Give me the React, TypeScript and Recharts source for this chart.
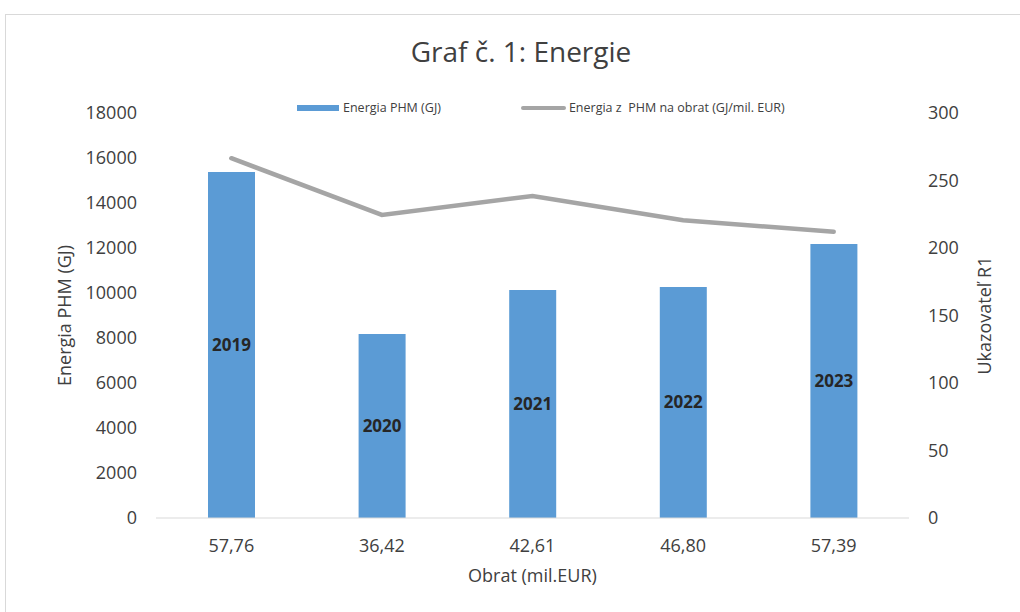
import React from 'react';
import { ComposedChart, Bar, Line, XAxis, YAxis, Legend, LabelList } from 'recharts';

const FONT = '"Open Sans", "Noto Sans", sans-serif';
const BLUE = '#5b9bd5';
const GRAY = '#a5a5a5';
const TEXT = '#404040';

const turnover = ['57,76', '36,42', '42,61', '46,80', '57,39'];
const years = ['2019', '2020', '2021', '2022', '2023'];
const energyGJ = [15380, 8180, 10130, 10270, 12180];
const energyPerTurnover = [266.5, 224.5, 238.5, 220.5, 212];
const leftTicks = [0, 2000, 4000, 6000, 8000, 10000, 12000, 14000, 16000, 18000];
const rightTicks = [0, 50, 100, 150, 200, 250, 300];

const data = turnover.map((t, i) => ({
  turnover: t,
  year: years[i],
  energy: energyGJ[i],
  ratio: energyPerTurnover[i],
}));

const renderLegend = () => (
  <div style={{ display: 'flex', alignItems: 'center', fontSize: 12.5, color: TEXT, fontFamily: FONT, whiteSpace: 'pre' }}>
    <span style={{ display: 'inline-block', width: 42, height: 6, background: BLUE, marginRight: 4 }} />
    <span style={{ marginRight: 80 }}>Energia PHM (GJ)</span>
    <span style={{ display: 'inline-block', width: 45, height: 4, borderRadius: 2, background: GRAY, marginRight: 3 }} />
    <span>Energia z  PHM na obrat (GJ/mil. EUR)</span>
  </div>
);

const App = () => {
  return (
    <div style={{ position: 'absolute', left: 0, top: 0, width: 1020, height: 612, overflow: 'hidden', background: '#fff', fontFamily: FONT }}>
      <div style={{ position: 'absolute', left: 5, top: 14, width: 1100, height: 700, border: '1px solid #d9d9d9' }} />
      <div style={{ position: 'absolute', left: 0, top: 32, width: 1042, textAlign: 'center', fontSize: 28, color: TEXT }}>
        Graf č. 1: Energie
      </div>
      <div style={{ position: 'absolute', left: 0, top: 0 }}>
        <ComposedChart
          width={1020}
          height={612}
          data={data}
          margin={{ top: 113, right: 11, bottom: 44, left: 36 }}
        >
          <XAxis
            dataKey="turnover"
            height={50}
            axisLine={{ stroke: '#d9d9d9' }}
            tickLine={false}
            tickMargin={15}
            tick={{ fill: TEXT, fontSize: 18, fontFamily: FONT }}
            label={{ value: 'Obrat (mil.EUR)', position: 'bottom', offset: 1, fill: TEXT, fontSize: 18, fontFamily: FONT }}
          />
          <YAxis
            yAxisId="left"
            width={120}
            domain={[0, 18000]}
            ticks={leftTicks}
            axisLine={false}
            tickLine={false}
            tickMargin={13}
            tick={{ fill: TEXT, fontSize: 18, fontFamily: FONT }}
            label={{ value: 'Energia PHM (GJ)', angle: -90, position: 'insideLeft', offset: 29, fill: TEXT, fontSize: 18, fontFamily: FONT, style: { textAnchor: 'middle' } }}
          />
          <YAxis
            yAxisId="right"
            orientation="right"
            width={100}
            domain={[0, 300]}
            ticks={rightTicks}
            axisLine={false}
            tickLine={false}
            tickMargin={13}
            tick={{ fill: TEXT, fontSize: 18, fontFamily: FONT }}
            label={{ value: 'Ukazovateľ R1', angle: -90, position: 'insideRight', offset: 24, fill: TEXT, fontSize: 18, fontFamily: FONT, style: { textAnchor: 'middle' } }}
          />
          <Legend
            layout="horizontal"
            verticalAlign="middle"
            align="center"
            content={renderLegend}
            wrapperStyle={{ top: 99, left: 297, width: 'auto' }}
          />
          <Bar yAxisId="left" dataKey="energy" name="Energia PHM (GJ)" fill={BLUE} barSize={47} isAnimationActive={false}>
            <LabelList dataKey="year" position="center" fill="#262626" fontSize={17} fontWeight="bold" fontFamily={FONT} />
          </Bar>
          <Line
            yAxisId="right"
            type="linear"
            dataKey="ratio"
            name="Energia z  PHM na obrat (GJ/mil. EUR)"
            stroke={GRAY}
            strokeWidth={4.5}
            strokeLinecap="round"
            dot={false}
            activeDot={false}
            isAnimationActive={false}
          />
        </ComposedChart>
      </div>
    </div>
  );
};

export default App;
